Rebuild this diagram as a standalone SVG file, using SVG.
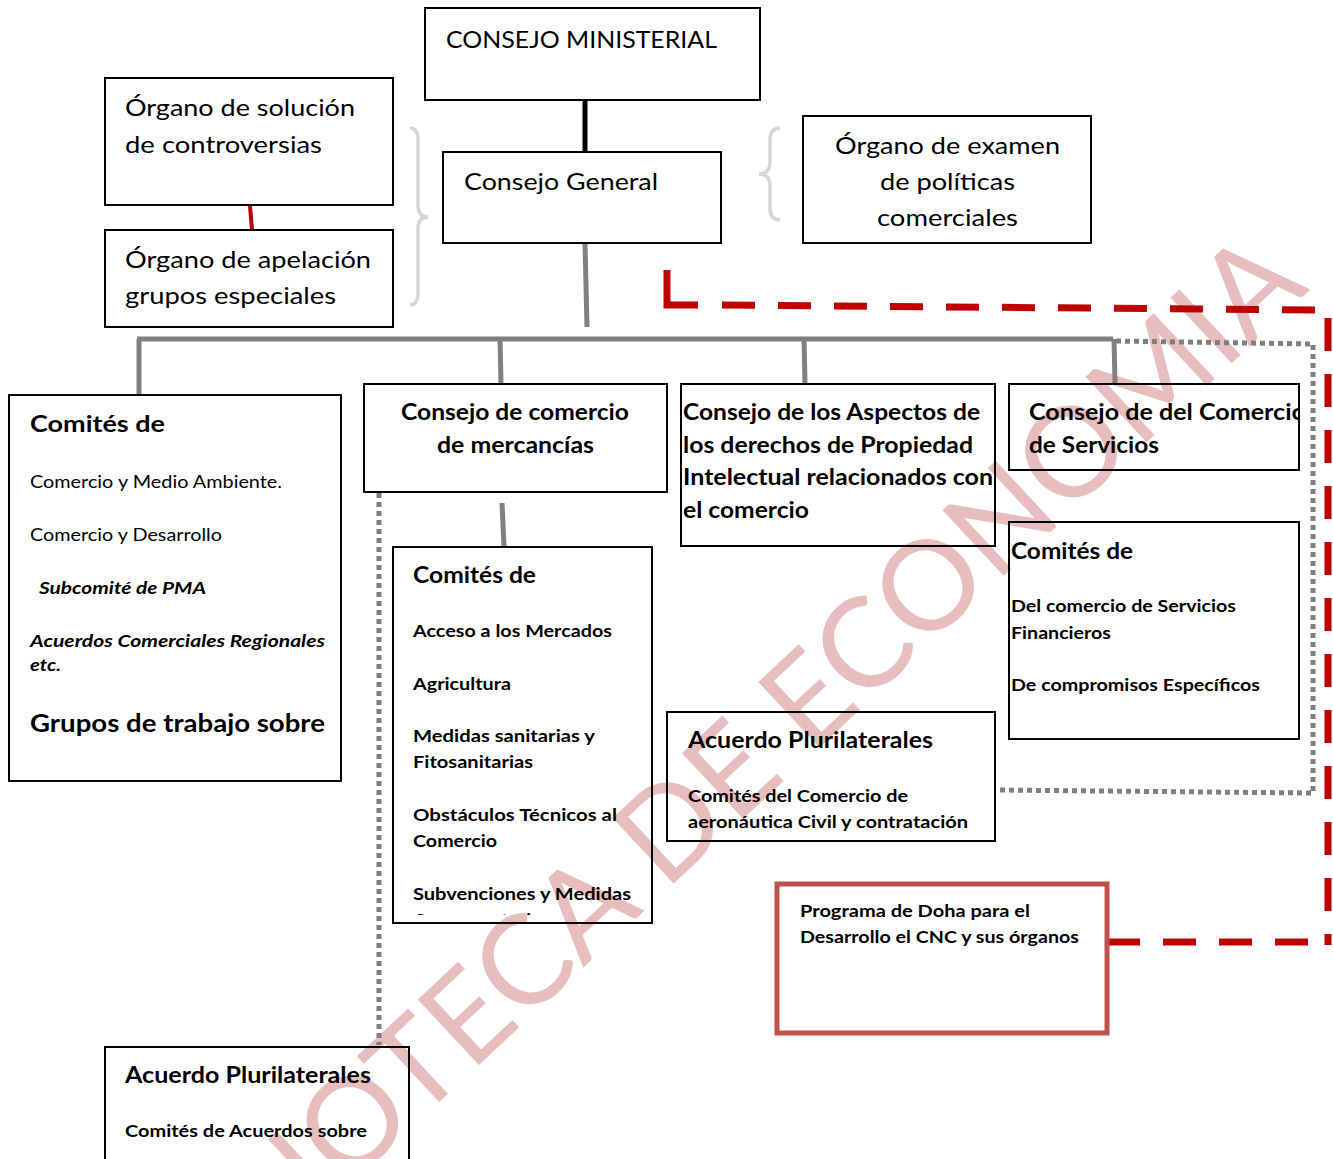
<svg xmlns="http://www.w3.org/2000/svg" width="1333" height="1159" viewBox="0 0 1333 1159">
  <style>
    .box { fill: none; stroke: #000; stroke-width: 2; }
    .doha { fill: none; stroke: #c0504d; stroke-width: 5; }
    .t { font-family: Lato, "Liberation Sans", sans-serif; fill: #000; }
    .reg { font-size: 24px; }
    .hb { font-size: 23px; font-weight: bold; }
    .sm { font-size: 17.5px; }
    .sb { font-size: 17px; font-weight: bold; }
    .sbi { font-size: 17px; font-weight: bold; font-style: italic; }
    .gray { stroke: #808080; stroke-width: 5; fill: none; }
    .dot { stroke: #808080; stroke-width: 5; fill: none; stroke-dasharray: 5 4; }
    .red { stroke: #c00000; stroke-width: 7; fill: none; }
    .reddash { stroke: #c00000; stroke-width: 7; fill: none; stroke-dasharray: 33 23; }
    .brace { stroke: #d6d6d6; stroke-width: 3.5; fill: none; }
    .wm { font-family: Lato, "Liberation Sans", sans-serif; font-size: 125px; fill: #e8bdbd; }
  </style>
  <defs>
    <clipPath id="clipMid"><rect x="394" y="548" width="257" height="367"/></clipPath>
    <clipPath id="clipServ"><rect x="1010" y="385" width="289" height="84"/></clipPath>
  </defs>

  <rect width="1333" height="1159" fill="#fff"/>

  <!-- watermark -->
  <g id="watermark" transform="translate(785,718) rotate(-43)">
    <text class="wm" x="0" y="45" text-anchor="middle">IOTECA DE ECONOMIA</text>
  </g>

  <!-- connectors -->
  <g id="connectors">
    <line x1="585" y1="100" x2="585" y2="152" stroke="#000" stroke-width="5"/>
    <line x1="585" y1="243" x2="587" y2="327" class="gray" stroke-width="4"/>
    <line x1="137" y1="339" x2="1113" y2="339" class="gray"/>
    <line x1="139" y1="339" x2="139" y2="394" class="gray"/>
    <line x1="500" y1="339" x2="501" y2="383" class="gray"/>
    <line x1="804" y1="339" x2="805" y2="383" class="gray"/>
    <line x1="1114" y1="339" x2="1115" y2="383" class="gray"/>
    <line x1="502" y1="503" x2="504" y2="546" class="gray"/>
    <line x1="250" y1="206" x2="252" y2="230" stroke="#c00000" stroke-width="4"/>
    <path class="dot" d="M1116,341 L1313,344 L1313,793 L996,790"/>
    <path class="dot" d="M379,493 V1045"/>
    <path class="red" d="M667,270 V305 H698"/>
    <path class="reddash" d="M722,305 L1318,310"/>
    <path class="reddash" d="M1328,318 V945"/>
    <path class="reddash" d="M1107,942 H1330"/>
    <path class="brace" d="M410,128 Q418,128 418,140 L418,205 Q418,217 428,217 Q418,217 418,229 L418,293 Q418,305 410,305"/>
    <path class="brace" d="M780,128 Q770,128 770,140 L770,162 Q770,174 759,174 Q770,174 770,186 L770,208 Q770,220 780,220"/>
  </g>

  <g id="consejo-ministerial">
    <rect class="box" x="425" y="8" width="335" height="92"/>
    <text class="t reg" x="446" y="48" textLength="271" lengthAdjust="spacingAndGlyphs">CONSEJO MINISTERIAL</text>
  </g>

  <g id="consejo-general">
    <rect class="box" x="443" y="152" width="278" height="91"/>
    <text class="t reg" x="464" y="190" textLength="194" lengthAdjust="spacingAndGlyphs">Consejo General</text>
  </g>

  <g id="organo-solucion">
    <rect class="box" x="105" y="78" width="288" height="127"/>
    <text class="t reg" x="125" y="116" textLength="230" lengthAdjust="spacingAndGlyphs">Órgano de solución</text>
    <text class="t reg" x="125" y="153" textLength="197" lengthAdjust="spacingAndGlyphs">de controversias</text>
  </g>

  <g id="organo-apelacion">
    <rect class="box" x="105" y="230" width="288" height="97"/>
    <text class="t reg" x="125" y="268" textLength="246" lengthAdjust="spacingAndGlyphs">Órgano de apelación</text>
    <text class="t reg" x="125" y="304" textLength="211" lengthAdjust="spacingAndGlyphs">grupos especiales</text>
  </g>

  <g id="organo-examen">
    <rect class="box" x="803" y="116" width="288" height="127"/>
    <text class="t reg" x="835" y="154" textLength="225" lengthAdjust="spacingAndGlyphs">Órgano de examen</text>
    <text class="t reg" x="880" y="190" textLength="135" lengthAdjust="spacingAndGlyphs">de políticas</text>
    <text class="t reg" x="877" y="226" textLength="141" lengthAdjust="spacingAndGlyphs">comerciales</text>
  </g>

  <g id="comites-generales">
    <rect class="box" x="9" y="395" width="332" height="386"/>
    <text class="t hb" x="30" y="432" textLength="135" lengthAdjust="spacingAndGlyphs">Comités de</text>
    <text class="t sm" x="30" y="488" textLength="252" lengthAdjust="spacingAndGlyphs">Comercio y Medio Ambiente.</text>
    <text class="t sm" x="30" y="541" textLength="192" lengthAdjust="spacingAndGlyphs">Comercio y Desarrollo</text>
    <text class="t sbi" x="39" y="594" textLength="167" lengthAdjust="spacingAndGlyphs">Subcomité de PMA</text>
    <text class="t sbi" x="30" y="647" textLength="295" lengthAdjust="spacingAndGlyphs">Acuerdos Comerciales Regionales</text>
    <text class="t sbi" x="30" y="671" textLength="31" lengthAdjust="spacingAndGlyphs">etc.</text>
    <text class="t" x="30" y="732" font-size="25" font-weight="bold" textLength="295" lengthAdjust="spacingAndGlyphs">Grupos de trabajo sobre</text>
  </g>

  <g id="consejo-mercancias">
    <rect class="box" x="364" y="384" width="303" height="108"/>
    <text class="t hb" x="401" y="420" textLength="228" lengthAdjust="spacingAndGlyphs">Consejo de comercio</text>
    <text class="t hb" x="437" y="453" textLength="157" lengthAdjust="spacingAndGlyphs">de mercancías</text>
  </g>

  <g id="comites-mercancias">
    <rect class="box" x="393" y="547" width="259" height="376"/>
    <g clip-path="url(#clipMid)">
      <text class="t hb" x="413" y="583" textLength="123" lengthAdjust="spacingAndGlyphs">Comités de</text>
      <text class="t sb" x="413" y="637" textLength="199" lengthAdjust="spacingAndGlyphs">Acceso a los Mercados</text>
      <text class="t sb" x="413" y="690" textLength="98" lengthAdjust="spacingAndGlyphs">Agricultura</text>
      <text class="t sb" x="413" y="742" textLength="182" lengthAdjust="spacingAndGlyphs">Medidas sanitarias y</text>
      <text class="t sb" x="413" y="768" textLength="120" lengthAdjust="spacingAndGlyphs">Fitosanitarias</text>
      <text class="t sb" x="413" y="821" textLength="204" lengthAdjust="spacingAndGlyphs">Obstáculos  Técnicos al</text>
      <text class="t sb" x="413" y="847" textLength="84" lengthAdjust="spacingAndGlyphs">Comercio</text>
      <text class="t sb" x="413" y="900" textLength="218" lengthAdjust="spacingAndGlyphs">Subvenciones y Medidas</text>
      <text class="t sb" x="413" y="926" textLength="136" lengthAdjust="spacingAndGlyphs">Compensatorias</text>
    </g>
  </g>

  <g id="consejo-adpic">
    <rect class="box" x="681" y="384" width="314" height="162"/>
    <text class="t hb" x="683" y="420" textLength="297" lengthAdjust="spacingAndGlyphs">Consejo de los Aspectos de</text>
    <text class="t hb" x="683" y="453" textLength="290" lengthAdjust="spacingAndGlyphs">los derechos de Propiedad</text>
    <text class="t hb" x="683" y="485" textLength="310" lengthAdjust="spacingAndGlyphs">Intelectual relacionados con</text>
    <text class="t hb" x="683" y="518" textLength="126" lengthAdjust="spacingAndGlyphs">el comercio</text>
  </g>

  <g id="consejo-servicios">
    <rect class="box" x="1009" y="384" width="290" height="86"/>
    <g clip-path="url(#clipServ)">
      <text class="t hb" x="1029" y="420" textLength="277" lengthAdjust="spacingAndGlyphs">Consejo de del Comercio</text>
      <text class="t hb" x="1029" y="453" textLength="130" lengthAdjust="spacingAndGlyphs">de Servicios</text>
    </g>
  </g>

  <g id="comites-servicios">
    <rect class="box" x="1009" y="522" width="290" height="217"/>
    <text class="t hb" x="1011" y="559" textLength="122" lengthAdjust="spacingAndGlyphs">Comités de</text>
    <text class="t sb" x="1011" y="612" textLength="225" lengthAdjust="spacingAndGlyphs">Del comercio de Servicios</text>
    <text class="t sb" x="1011" y="639" textLength="100" lengthAdjust="spacingAndGlyphs">Financieros</text>
    <text class="t sb" x="1011" y="691" textLength="249" lengthAdjust="spacingAndGlyphs">De compromisos Específicos</text>
  </g>

  <g id="acuerdo-plurilateral-aeronautica">
    <rect class="box" x="667" y="712" width="328" height="129"/>
    <text class="t hb" x="688" y="748" textLength="245" lengthAdjust="spacingAndGlyphs">Acuerdo Plurilaterales</text>
    <text class="t sb" x="688" y="802" textLength="220" lengthAdjust="spacingAndGlyphs">Comités del Comercio de</text>
    <text class="t sb" x="688" y="828" textLength="280" lengthAdjust="spacingAndGlyphs">aeronáutica Civil y contratación</text>
  </g>

  <g id="programa-doha">
    <rect class="doha" x="777" y="884" width="330" height="149"/>
    <text class="t sb" x="800" y="917" textLength="230" lengthAdjust="spacingAndGlyphs">Programa de Doha para el</text>
    <text class="t sb" x="800" y="943" textLength="279" lengthAdjust="spacingAndGlyphs">Desarrollo el CNC y sus órganos</text>
  </g>

  <g id="acuerdo-plurilateral-inferior">
    <rect class="box" x="105" y="1047" width="304" height="114"/>
    <text class="t hb" x="125" y="1083" textLength="246" lengthAdjust="spacingAndGlyphs">Acuerdo Plurilaterales</text>
    <text class="t sb" x="125" y="1137" textLength="242" lengthAdjust="spacingAndGlyphs">Comités de Acuerdos sobre</text>
  </g>
</svg>
